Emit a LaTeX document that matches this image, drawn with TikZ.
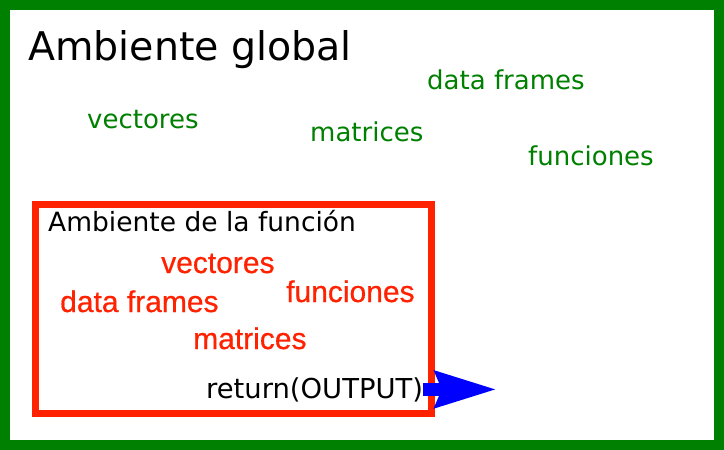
\documentclass[tikz,border=0pt]{standalone}
\usepackage{fontspec}
\setmainfont{DejaVu Sans}
\newfontfamily\arialf[FakeBold=0.6]{Liberation Sans}
\usetikzlibrary{arrows.meta}
\definecolor{frgreen}{HTML}{008000}
\definecolor{frred}{HTML}{FF2200}
\definecolor{arrblue}{HTML}{0000FF}
\begin{document}
\begin{tikzpicture}[x=1pt,y=-1pt,
  gtxt/.style={anchor=base west, inner sep=0pt, text=frgreen, font=\fontsize{26}{30}\selectfont},
  rtxt/.style={anchor=base west, inner sep=0pt, text=frred, font=\arialf\fontsize{30}{34}\selectfont},
  btxt/.style={anchor=base west, inner sep=0pt, text=black, font=\fontsize{26.5}{30}\selectfont},
  frame/.style={line width=10pt, draw=frgreen},
  fbox/.style={line width=7pt, draw=frred},
  outarrow/.style={draw=arrblue, line width=13pt, -{Stealth[length=61pt,width=35pt,inset=6pt]}}
  ]
\useasboundingbox (0,0) rectangle (724,450);
\fill[white] (0,0) rectangle (724,450);
\draw[frame] (5,5) rectangle (719,445);
\node[anchor=base west, inner sep=0pt, font=\fontsize{39.5}{44}\selectfont] (global) at (28,60) {Ambiente global};
\node[gtxt] (gvec) at (87,128) {vectores};
\node[gtxt] (gdf) at (427,89) {data frames};
\node[gtxt] (gmat) at (310,141.5) {matrices};
\node[gtxt] (gfun) at (528,165) {funciones};
\draw[fbox] (35.5,204.5) rectangle (431.5,413.5);
\node[btxt] (local) at (48,231) {Ambiente de la función};
\node[rtxt] (rvec) at (161,273) {vectores};
\node[rtxt] (rdf) at (60,312) {data frames};
\node[rtxt] (rfun) at (286,302) {funciones};
\node[rtxt] (rmat) at (193,349) {matrices};
\node[btxt, font=\fontsize{27.4}{31}\selectfont] (ret) at (206,398) {return(OUTPUT)};
\coordinate (outx) at (497,0);
\draw[outarrow] (ret.east) -- (ret.east -| outx);
\end{tikzpicture}
\end{document}
